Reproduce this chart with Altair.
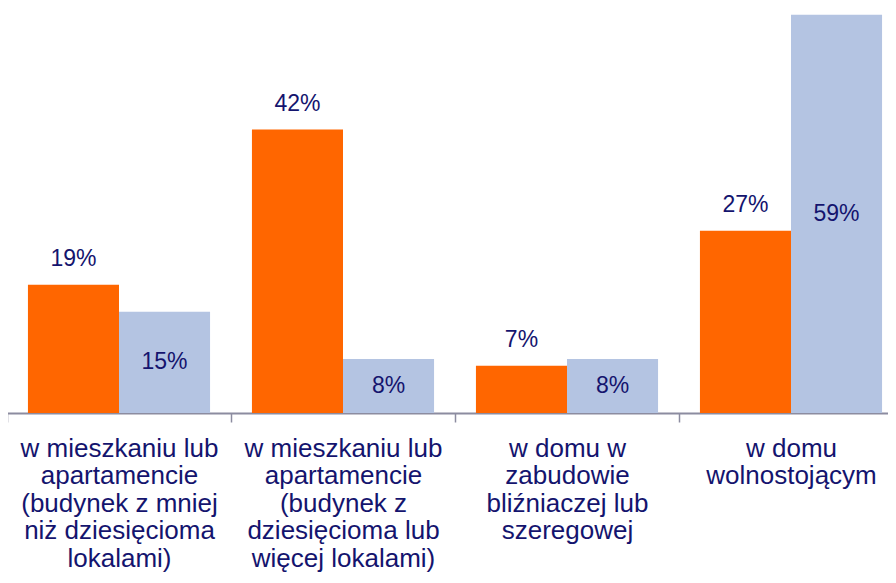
import altair as alt
import pandas as pd

categories = [
    "w mieszkaniu lub\napartamencie\n(budynek z mniej\nniż dziesięcioma\nlokalami)",
    "w mieszkaniu lub\napartamencie\n(budynek z\ndziesięcioma lub\nwięcej lokalami)",
    "w domu w\nzabudowie\nbliźniaczej lub\nszeregowej",
    "w domu\nwolnostojącym",
]
series = ["seria 1", "seria 2"]
values_orange = [19, 42, 7, 27]
values_blue = [15, 8, 8, 59]
colors = ["#FF6600", "#B4C4E2"]

rows = []
for c, a, b in zip(categories, values_orange, values_blue):
    rows.append({"kategoria": c, "seria": series[0], "wartosc": a})
    rows.append({"kategoria": c, "seria": series[1], "wartosc": b})
df = pd.DataFrame(rows)

TEXT = "#14146E"
FONT = "Liberation Sans"

x = alt.X(
    "kategoria:N",
    sort=categories,
    scale=alt.Scale(range=[-1, 895], paddingInner=0, paddingOuter=0),
    axis=alt.Axis(
        title=None,
        labelAngle=0,
        labelExpr="split(datum.label, '\\n')",
        labelFont=FONT,
        labelFontSize=26,
        labelLineHeight=27.5,
        labelColor=TEXT,
        labelPadding=13,
        labelLimit=0,
        labelBaseline="top",
        tickBand="extent",
        tickSize=9,
        tickColor="#8C8CA0",
        tickWidth=1.5,
        domainColor="#8C8CA0",
        domainWidth=2,
        grid=False,
    ),
)
xoff = alt.XOffset(
    "seria:N", sort=series, scale=alt.Scale(paddingOuter=0.23, paddingInner=0)
)
y = alt.Y("wartosc:Q", scale=alt.Scale(domain=[0, 60], nice=False), axis=None)

base = alt.Chart(df)

bars = base.mark_bar().encode(
    x=x,
    xOffset=xoff,
    y=y,
    color=alt.Color("seria:N", sort=series, scale=alt.Scale(domain=series, range=colors), legend=None),
)

label_top = (
    base.transform_filter(alt.datum.seria == series[0])
    .transform_calculate(txt="datum.wartosc + '%'")
    .mark_text(dy=-26, baseline="middle", font=FONT, fontSize=23, color=TEXT)
    .encode(x=x, xOffset=xoff, y=y, text="txt:N")
)

label_mid = (
    base.transform_filter(alt.datum.seria == series[1])
    .transform_calculate(txt="datum.wartosc + '%'", mid="datum.wartosc / 2")
    .mark_text(baseline="middle", font=FONT, fontSize=23, color=TEXT)
    .encode(
        x=x,
        xOffset=xoff,
        y=alt.Y("mid:Q", scale=alt.Scale(domain=[0, 60], nice=False), axis=None),
        text="txt:N",
    )
)

chart = (
    alt.layer(bars, label_top, label_mid)
    .properties(
        width=880,
        height=405,
        autosize=alt.AutoSizeParams(type="none"),
        padding={"left": 0, "top": 0, "right": 0, "bottom": 159},
        view=alt.ViewBackground(strokeWidth=0, stroke="transparent"),
    )
    .configure_view(strokeWidth=0, stroke="transparent")
    .configure(background="white")
)

chart.save("out.html", embed_options={"renderer": "svg", "actions": False})
